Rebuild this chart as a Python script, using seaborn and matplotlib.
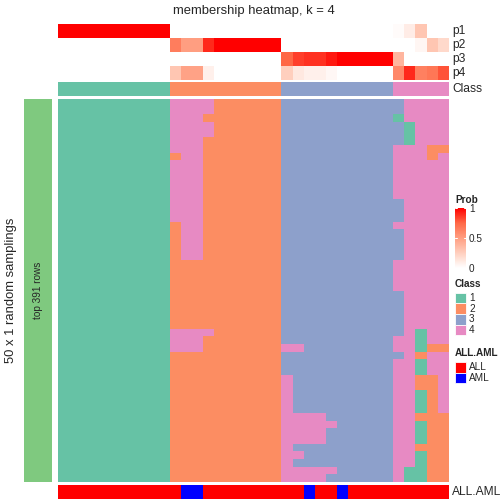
import numpy as np
import pandas as pd
import seaborn as sns
import matplotlib.pyplot as plt
from matplotlib.colors import ListedColormap, LinearSegmentedColormap
from matplotlib.patches import Rectangle

# membership probabilities for the 35 samples (top annotation)
p1 = [1, 1, 1, 1, 1, 1, 1, 1, 1, 1,
      0, 0, 0, 0, 0, 0, 0, 0, 0, 0,
      0, 0, 0, 0, 0, 0, 0, 0, 0, 0,
      0.02, 0.1, 0.3, 0, 0]
p2 = [0, 0, 0, 0, 0, 0, 0, 0, 0, 0,
      0.65, 0.5, 0.5, 0.9, 1, 1, 1, 1, 1, 1,
      0, 0, 0, 0, 0, 0, 0, 0, 0, 0,
      0, 0, 0.05, 0.3, 0.2]
p3 = [0, 0, 0, 0, 0, 0, 0, 0, 0, 0,
      0, 0, 0, 0, 0, 0, 0, 0, 0, 0,
      0.75, 0.85, 0.88, 0.88, 0.94, 1, 1, 1, 1, 1,
      0.38, 0, 0, 0, 0]
p4 = [0, 0, 0, 0, 0, 0, 0, 0, 0, 0,
      0.3, 0.48, 0.48, 0.08, 0, 0, 0, 0, 0, 0,
      0.25, 0.12, 0.08, 0.08, 0.04, 0, 0, 0, 0, 0,
      0.6, 0.9, 0.64, 0.68, 0.8]
class_top = [1, 1, 1, 1, 1, 1, 1, 1, 1, 1,
             2, 2, 2, 2, 2, 2, 2, 2, 2, 2,
             3, 3, 3, 3, 3, 3, 3, 3, 3, 3,
             4, 4, 4, 4, 4]
all_aml = ["ALL", "ALL", "ALL", "ALL", "ALL", "ALL", "ALL", "ALL", "ALL", "ALL",
           "ALL", "AML", "AML", "ALL", "ALL", "ALL", "ALL", "ALL", "ALL", "ALL",
           "ALL", "ALL", "AML", "ALL", "ALL", "AML", "ALL", "ALL", "ALL", "ALL",
           "ALL", "ALL", "ALL", "ALL", "ALL"]

# class of each sample in each of the 50 random samplings
membership_rows = [
    "1111111111 4444222222 3333333333 34444",
    "1111111111 4444222222 3333333333 34444",
    "1111111111 4442222222 3333333333 14444",
    "1111111111 4444222222 3333333333 31444",
    "1111111111 4444222222 3333333333 31444",
    "1111111111 4442222222 3333333333 31444",
    "1111111111 4442222222 3333333333 44422",
    "1111111111 2442222222 3333333333 44424",
    "1111111111 4442222222 3333333333 44444",
    "1111111111 4442222222 3333333333 44444",
    "1111111111 4442222222 3333333333 44444",
    "1111111111 4442222222 3333333333 44444",
    "1111111111 4442222222 3333333333 44444",
    "1111111111 4442222222 3333333333 34444",
    "1111111111 4442222222 3333333333 34444",
    "1111111111 4442222222 3333333333 34444",
    "1111111111 2442222222 3333333333 44444",
    "1111111111 2442222222 3333333333 34444",
    "1111111111 2442222222 3333333333 34444",
    "1111111111 2442222222 3333333333 34444",
    "1111111111 2442222222 3333333333 34444",
    "1111111111 2222222222 3333333333 44444",
    "1111111111 2222222222 3333333333 44444",
    "1111111111 2222222222 3333333333 44444",
    "1111111111 2222222222 3333333333 44444",
    "1111111111 2222222222 3333333333 34444",
    "1111111111 2222222222 3333333333 34444",
    "1111111111 2222222222 3333333333 34444",
    "1111111111 2222222222 3333333333 34444",
    "1111111111 2222222222 3333333333 34444",
    "1111111111 4444222222 3333333333 34144",
    "1111111111 4442222222 3333333333 44144",
    "1111111111 4442222222 4433333333 44122",
    "1111111111 2222222222 3333333333 34244",
    "1111111111 2222222222 3333333333 44144",
    "1111111111 2222222222 3333333333 44144",
    "1111111111 2222222222 4333333333 44224",
    "1111111111 2222222222 4333333333 44224",
    "1111111111 2222222222 4333333333 44124",
    "1111111111 2222222222 4333333333 44124",
    "1111111111 2222222222 4333333333 44124",
    "1111111111 2222222222 4444333333 44222",
    "1111111111 2222222222 4444433333 44122",
    "1111111111 2222222222 4444333333 44122",
    "1111111111 2222222222 4444333333 44122",
    "1111111111 2222222222 4333333333 44222",
    "1111111111 2222222222 4433333333 44122",
    "1111111111 2222222222 4333333333 44122",
    "1111111111 2222222222 4444433333 41122",
    "1111111111 2222222222 4444333333 41122",
]

class_colors = ["#66C2A5", "#FC8D62", "#8DA0CB", "#E78AC3"]
class_labels = ["1", "2", "3", "4"]
aml_colors = {"ALL": "#FF0000", "AML": "#0000FF"}

sns.set_theme(style="white")
plt.rcParams["font.family"] = ["Liberation Sans", "DejaVu Sans"]

membership = np.array([[int(c) for c in r.replace(" ", "")] for r in membership_rows])
prob_df = pd.DataFrame([p1, p2, p3, p4], index=["p1", "p2", "p3", "p4"])
aml_codes = [0 if a == "ALL" else 1 for a in all_aml]

prob_cmap = LinearSegmentedColormap.from_list(
    "prob", [(0, "#FFFFFF"), (0.25, "#FFCFBE"), (0.5, "#FF9E81"),
             (0.75, "#FF6846"), (1, "#FF0000")])
class_cmap = ListedColormap(class_colors)
aml_cmap = ListedColormap([aml_colors["ALL"], aml_colors["AML"]])

W = H = 504
fig = plt.figure(figsize=(7, 7), dpi=72)


def box(x0, y0, x1, y1):
    return [x0 / W, 1 - y1 / H, (x1 - x0) / W, (y1 - y0) / H]


# overlay for text and legends, in pixel coordinates
ov = fig.add_axes([0, 0, 1, 1])
ov.set_xlim(0, W)
ov.set_ylim(H, 0)
ov.axis("off")

ax_p = fig.add_axes(box(58, 24, 449, 80))
cax = fig.add_axes(box(455, 208, 466, 268))
sns.heatmap(prob_df, ax=ax_p, cmap=prob_cmap, vmin=0, vmax=1,
            cbar_ax=cax, cbar_kws={"ticks": [0, 0.5, 1]},
            xticklabels=False, yticklabels=False)
ax_p.axis("off")
cbar = ax_p.collections[0].colorbar
cbar.outline.set_visible(False)
cbar.set_ticklabels(["0", "0.5", "1"])
cax.tick_params(length=0, labelsize=10, pad=3)
for v in [0, 0.5, 1]:
    cax.plot([0, 0.22], [v, v], color="white", lw=1, transform=cax.get_yaxis_transform())
    cax.plot([0.78, 1], [v, v], color="white", lw=1, transform=cax.get_yaxis_transform())

ax_c = fig.add_axes(box(58, 82, 449, 96))
sns.heatmap(np.array([class_top]), ax=ax_c, cmap=class_cmap, vmin=0.5, vmax=4.5,
            cbar=False, xticklabels=False, yticklabels=False)
ax_c.axis("off")

ax_m = fig.add_axes(box(58, 99, 449, 482))
sns.heatmap(membership, ax=ax_m, cmap=class_cmap, vmin=0.5, vmax=4.5,
            cbar=False, xticklabels=False, yticklabels=False)
ax_m.axis("off")

ax_b = fig.add_axes(box(58, 485, 449, 499))
sns.heatmap(np.array([aml_codes]), ax=ax_b, cmap=aml_cmap, vmin=-0.5, vmax=1.5,
            cbar=False, xticklabels=False, yticklabels=False)
ax_b.axis("off")

# left row-slice bar
ov.add_patch(Rectangle((24, 99), 28, 383, facecolor="#7FC97F", edgecolor="none"))
ov.text(38, 290.5, "top 391 rows", rotation=90, ha="center", va="center", fontsize=10)
ov.text(11, 290.5, "50 x 1 random samplings", rotation=90, ha="center", va="center", fontsize=13)

ov.text(253.5, 11, "membership heatmap, k = 4", ha="center", va="center", fontsize=13)

for name, yc in zip(["p1", "p2", "p3", "p4", "Class"], [31, 45, 59, 73, 89]):
    ov.text(452, yc, name, ha="left", va="center", fontsize=12)
ov.text(452, 492, "ALL.AML", ha="left", va="center", fontsize=12)

# legends
ov.text(455, 200, "Prob", ha="left", va="center", fontsize=10, fontweight="bold")
ov.text(455, 284, "Class", ha="left", va="center", fontsize=10, fontweight="bold")
for i, (col, lab) in enumerate(zip(class_colors, class_labels)):
    y0 = 292.5 + i * 10.7
    ov.add_patch(Rectangle((455, y0), 11, 10.7, facecolor=col, edgecolor="white", lw=0.8))
    ov.text(469, y0 + 5.5, lab, ha="left", va="center", fontsize=10)
ov.text(455, 353, "ALL.AML", ha="left", va="center", fontsize=10, fontweight="bold")
for i, lab in enumerate(["ALL", "AML"]):
    y0 = 362 + i * 10.7
    ov.add_patch(Rectangle((455, y0), 11, 10.7, facecolor=aml_colors[lab], edgecolor="white", lw=0.8))
    ov.text(469, y0 + 5.5, lab, ha="left", va="center", fontsize=10)

fig.savefig("out.png", dpi=72)
